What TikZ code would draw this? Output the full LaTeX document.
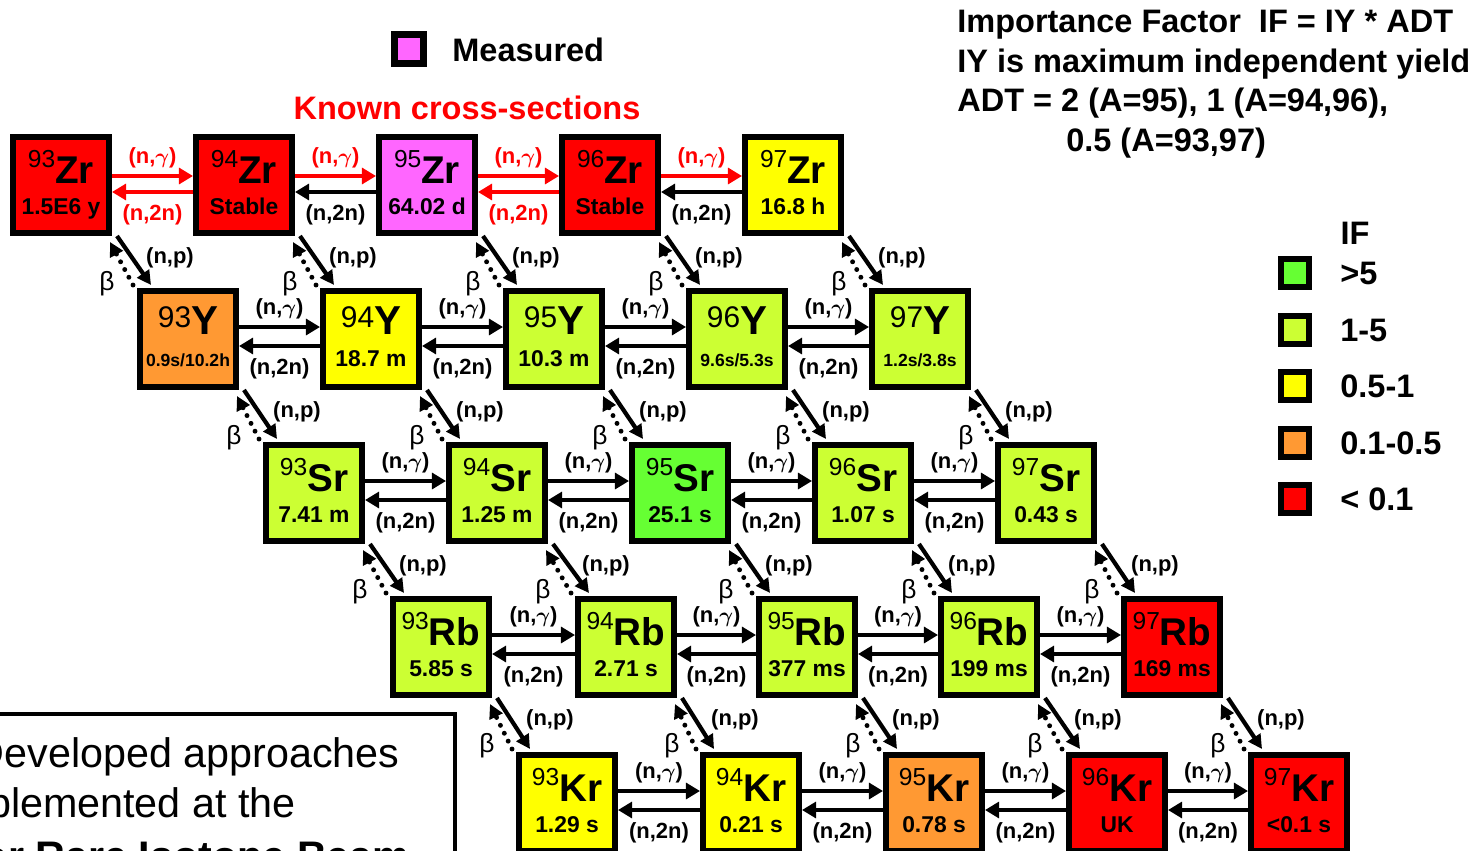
\documentclass[tikz,border=0pt]{standalone}
\usepackage{fontspec}
\setmainfont{Liberation Sans}
\usetikzlibrary{arrows.meta, positioning, calc}
\definecolor{ifred}{HTML}{FF0000}
\definecolor{ifmagenta}{HTML}{FF66FF}
\definecolor{ifyellow}{HTML}{FFFF00}
\definecolor{iforange}{HTML}{FF9933}
\definecolor{iflime}{HTML}{CCFF33}
\definecolor{ifgreen}{HTML}{66FF33}

% nuclide labels
\newcommand{\nuc}[2]{{\fontsize{14}{14}\selectfont\mdseries\raisebox{9pt}{#1}}{\fontsize{22}{22}\selectfont #2}}
\newcommand{\nucy}[2]{{\fontsize{17}{17}\selectfont\mdseries\raisebox{4pt}{#1}}{\fontsize{23}{23}\selectfont #2}}
\newcommand{\shortlife}[1]{{\fontsize{10}{10}\selectfont #1}}
\newcommand{\ngam}{(n,{\boldmath$\gamma$})}

\tikzset{
  iso/.style={draw=black, line width=3.4pt, minimum size=1.92cm, inner sep=0pt, align=center, font=\fontsize{13}{15}\selectfont\bfseries},
  legbox/.style={draw=black, line width=3.4pt, minimum size=0.56cm, inner sep=0pt},
  capture/.style={line width=2.8pt, -{Triangle[length=8pt,width=9pt]}},
  npflow/.style={line width=2.4pt, -{Triangle[length=8pt,width=8pt]}},
  betaflow/.style={line width=2.8pt, line cap=round, dash pattern=on 0pt off 5pt, -{Triangle[length=8pt,width=8pt]}},
  react/.style={font=\fontsize{12.5}{14}\selectfont\bfseries, inner sep=1pt},
  betalbl/.style={font=\fontsize{15}{15}\selectfont},
  headline/.style={font=\fontsize{18.5}{22.5}\selectfont\bfseries},
}

\begin{document}
\begin{tikzpicture}[x=0.02cm, y=-0.02cm]
    \useasboundingbox (0,0) rectangle (1476,851);
    \clip (0,0) rectangle (1476,851);

    % Zr row
    \node[iso, fill=ifred] (Zr93) at (61,185) {\nuc{93}{Zr}\\[3pt] 1.5E6 y\vphantom{y}};
    \node[iso, fill=ifred] (Zr94) at (244,185) {\nuc{94}{Zr}\\[3pt] Stable\vphantom{y}};
    \node[iso, fill=ifmagenta] (Zr95) at (427,185) {\nuc{95}{Zr}\\[3pt] 64.02 d\vphantom{y}};
    \node[iso, fill=ifred] (Zr96) at (610,185) {\nuc{96}{Zr}\\[3pt] Stable\vphantom{y}};
    \node[iso, fill=ifyellow] (Zr97) at (793,185) {\nuc{97}{Zr}\\[3pt] 16.8 h\vphantom{y}};

    % Y row
    \node[iso, fill=iforange] (Y93) at (188,339) {\nucy{93}{Y}\\[3pt] \shortlife{0.9s/10.2h}\vphantom{y}};
    \node[iso, fill=ifyellow] (Y94) at (371,339) {\nucy{94}{Y}\\[3pt] 18.7 m\vphantom{y}};
    \node[iso, fill=iflime] (Y95) at (554,339) {\nucy{95}{Y}\\[3pt] 10.3 m\vphantom{y}};
    \node[iso, fill=iflime] (Y96) at (737,339) {\nucy{96}{Y}\\[3pt] \shortlife{9.6s/5.3s}\vphantom{y}};
    \node[iso, fill=iflime] (Y97) at (920,339) {\nucy{97}{Y}\\[3pt] \shortlife{1.2s/3.8s}\vphantom{y}};

    % Sr row
    \node[iso, fill=iflime] (Sr93) at (314,493) {\nuc{93}{Sr}\\[3pt] 7.41 m\vphantom{y}};
    \node[iso, fill=iflime] (Sr94) at (497,493) {\nuc{94}{Sr}\\[3pt] 1.25 m\vphantom{y}};
    \node[iso, fill=ifgreen] (Sr95) at (680,493) {\nuc{95}{Sr}\\[3pt] 25.1 s\vphantom{y}};
    \node[iso, fill=iflime] (Sr96) at (863,493) {\nuc{96}{Sr}\\[3pt] 1.07 s\vphantom{y}};
    \node[iso, fill=iflime] (Sr97) at (1046,493) {\nuc{97}{Sr}\\[3pt] 0.43 s\vphantom{y}};

    % Rb row
    \node[iso, fill=iflime] (Rb93) at (441,647) {\nuc{93}{Rb}\\[3pt] 5.85 s\vphantom{y}};
    \node[iso, fill=iflime] (Rb94) at (626,647) {\nuc{94}{Rb}\\[3pt] 2.71 s\vphantom{y}};
    \node[iso, fill=iflime] (Rb95) at (807,647) {\nuc{95}{Rb}\\[3pt] 377 ms\vphantom{y}};
    \node[iso, fill=iflime] (Rb96) at (989,647) {\nuc{96}{Rb}\\[3pt] 199 ms\vphantom{y}};
    \node[iso, fill=ifred] (Rb97) at (1172,647) {\nuc{97}{Rb}\\[3pt] 169 ms\vphantom{y}};

    % Kr row
    \node[iso, fill=ifyellow] (Kr93) at (567,803) {\nuc{93}{Kr}\\[3pt] 1.29 s\vphantom{y}};
    \node[iso, fill=ifyellow] (Kr94) at (751,803) {\nuc{94}{Kr}\\[3pt] 0.21 s\vphantom{y}};
    \node[iso, fill=iforange] (Kr95) at (934,803) {\nuc{95}{Kr}\\[3pt] 0.78 s\vphantom{y}};
    \node[iso, fill=ifred] (Kr96) at (1117,803) {\nuc{96}{Kr}\\[3pt] UK\vphantom{y}};
    \node[iso, fill=ifred] (Kr97) at (1299,803) {\nuc{97}{Kr}\\[3pt] <0.1 s\vphantom{y}};

    % Zr chain, known cross-sections in red
    \draw[capture, ifred] ([shift={(0,-9)}]Zr93.east) -- ([shift={(0,-9)}]Zr94.west) node[midway, above=2pt, react, text=ifred] {\ngam};
    \draw[capture, ifred] ([shift={(0,7)}]Zr94.west) -- ([shift={(0,7)}]Zr93.east) node[midway, below=5pt, react, text=ifred] {(n,2n)};
    \draw[capture, ifred] ([shift={(0,-9)}]Zr94.east) -- ([shift={(0,-9)}]Zr95.west) node[midway, above=2pt, react, text=ifred] {\ngam};
    \draw[capture] ([shift={(0,7)}]Zr95.west) -- ([shift={(0,7)}]Zr94.east) node[midway, below=5pt, react] {(n,2n)};
    \draw[capture, ifred] ([shift={(0,-9)}]Zr95.east) -- ([shift={(0,-9)}]Zr96.west) node[midway, above=2pt, react, text=ifred] {\ngam};
    \draw[capture, ifred] ([shift={(0,7)}]Zr96.west) -- ([shift={(0,7)}]Zr95.east) node[midway, below=5pt, react, text=ifred] {(n,2n)};
    \draw[capture, ifred] ([shift={(0,-9)}]Zr96.east) -- ([shift={(0,-9)}]Zr97.west) node[midway, above=2pt, react, text=ifred] {\ngam};
    \draw[capture] ([shift={(0,7)}]Zr97.west) -- ([shift={(0,7)}]Zr96.east) node[midway, below=5pt, react] {(n,2n)};

    % other chains
    \foreach \el in {Y,Sr,Rb,Kr}{
      \foreach \a/\b in {93/94,94/95,95/96,96/97}{
        \draw[capture] ([shift={(0,-12)}]\el\a.east) -- ([shift={(0,-12)}]\el\b.west) node[midway, above=2pt, react] {\ngam};
        \draw[capture] ([shift={(0,7)}]\el\b.west) -- ([shift={(0,7)}]\el\a.east) node[midway, below=5pt, react] {(n,2n)};
      }
    }

    % (n,p) down, beta decay back up
    \foreach \up/\dn in {Zr/Y,Y/Sr,Sr/Rb,Rb/Kr}{
      \foreach \m in {93,...,97}{
        \draw[npflow] ([shift={(5,0)}]\up\m.south east) -- ([shift={(14,-3)}]\dn\m.north west);
        \draw[betaflow] ([shift={(-4,-3)}]\dn\m.north west) -- ([shift={(-2,6)}]\up\m.south east);
        \node[react] (np\up\m) at ([shift={(58,22)}]\up\m.south east) {(n,p)};
        \node[betalbl] (beta\up\m) at ([shift={(-5,48)}]\up\m.south east) {β};
      }
    }

    % header
    \node[legbox, fill=ifmagenta, minimum size=0.58cm, line width=4pt] (measkey) at (409,49) {};
    \node[headline, anchor=west, inner sep=0pt] (measured) at (452,50) {Measured};
    \node[headline, text=ifred] (known) at (467,108) {Known cross-sections};

    % importance factor note
    \node[headline, anchor=north west, align=left, inner sep=0pt] (ifnote) at (957,10)
      {Importance Factor\ \ IF = IY * ADT\\IY is maximum independent yield\\ADT = 2 (A=95), 1 (A=94,96),\\\hspace*{62pt}0.5 (A=93,97)};

    % IF legend
    \node[headline] (iftitle) at (1355,233) {IF};
    \node[legbox, fill=ifgreen] (key1) at (1295,273) {};
    \node[legbox, fill=iflime] (key2) at (1295,330) {};
    \node[legbox, fill=ifyellow] (key3) at (1295,386) {};
    \node[legbox, fill=iforange] (key4) at (1295,443) {};
    \node[legbox, fill=ifred] (key5) at (1295,499) {};
    \node[headline, right=0.56cm of key1, inner sep=0pt] (keytext1) {>5};
    \node[headline, right=0.56cm of key2, inner sep=0pt] (keytext2) {1-5};
    \node[headline, right=0.56cm of key3, inner sep=0pt] (keytext3) {0.5-1};
    \node[headline, right=0.56cm of key4, inner sep=0pt] (keytext4) {0.1-0.5};
    \node[headline, right=0.56cm of key5, inner sep=0pt] (keytext5) {< 0.1};

    % text box, bottom left
    \draw[line width=2.3pt] (-20,714) rectangle (455,900);
    \node[anchor=base east, font=\fontsize{23.5}{28}\selectfont, inner sep=0pt] (dev1) at (400,767) {Developed approaches};
    \node[anchor=base east, font=\fontsize{23.5}{28}\selectfont, inner sep=0pt] (dev2) at (296,817) {implemented at the};
    \node[anchor=base east, font=\fontsize{23.5}{28}\selectfont\bfseries, inner sep=0pt] (dev3) at (410,870) {for Rare Isotope Beam};
\end{tikzpicture}
\end{document}
